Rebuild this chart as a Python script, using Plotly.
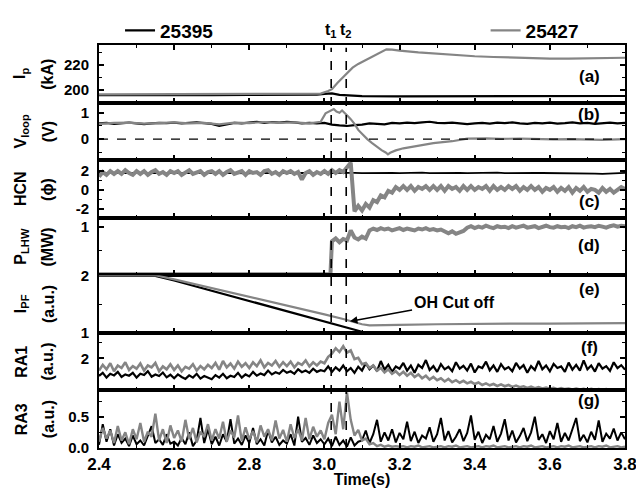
import numpy as np
import plotly.graph_objects as go
from plotly.subplots import make_subplots

# ---------------- time bases (sample axes) ----------------
t_01 = np.round(np.arange(2.40, 3.8001, 0.01), 2)   # 141 samples
t_02 = np.round(np.arange(2.40, 3.8001, 0.02), 2)   # 71 samples

shots = ["25395", "25427"]
panel_tags = ["(a)", "(b)", "(c)", "(d)", "(e)", "(f)", "(g)"]
t_marks = [3.018, 3.058]
t_mark_labels = ["t<sub>1</sub>", "t<sub>2</sub>"]
x_ticks = [2.4, 2.6, 2.8, 3.0, 3.2, 3.4, 3.6, 3.8]
x_ticktext = ["2.4", "2.6", "2.8", "3.0", "3.2", "3.4", "3.6", "3.8"]

# ---------------- (a) plasma current Ip (kA) ----------------
ip_b_t = [2.40, 2.50, 2.60, 2.70, 2.80, 2.90, 2.98, 3.00, 3.02, 3.04, 3.07, 3.10, 3.20, 3.30, 3.40, 3.50, 3.60, 3.70, 3.80]
ip_b = [195.8, 195.6, 195.9, 195.7, 196.0, 195.8, 196.1, 196.8, 197.2, 196.0, 195.2, 194.9, 194.7, 194.8, 194.6, 194.8, 194.7, 194.9, 195.0]
ip_g_t = [2.40, 2.50, 2.60, 2.70, 2.80, 2.90, 2.95, 2.99, 3.01, 3.02, 3.035, 3.05, 3.06, 3.075, 3.09, 3.115, 3.14, 3.165,
          3.18, 3.20, 3.25, 3.30, 3.35, 3.40, 3.45, 3.50, 3.55, 3.60, 3.65, 3.70, 3.75, 3.80]
ip_g = [196.3, 196.4, 196.2, 196.5, 196.3, 196.6, 196.5, 197.0, 199.0, 200.5, 205.8, 210.5, 214.0, 218.0, 221.0, 225.0, 229.0, 232.8,
        232.6, 231.7, 230.3, 229.1, 228.0, 227.2, 226.6, 226.0, 225.6, 225.3, 225.2, 225.3, 225.6, 226.0]

# ---------------- (b) loop voltage (V) ----------------
vl_b = [0.60, 0.62, 0.58, 0.61, 0.63, 0.60, 0.57, 0.60, 0.62, 0.61, 0.63, 0.60, 0.62, 0.64, 0.61, 0.58, 0.50, 0.57, 0.62, 0.60,
        0.64, 0.66, 0.62, 0.65, 0.63, 0.66, 0.64, 0.60, 0.62, 0.60, 0.62, 0.55, 0.52, 0.50, 0.53, 0.55, 0.60, 0.58, 0.56, 0.62,
        0.60, 0.63, 0.61, 0.64, 0.66, 0.62, 0.61, 0.63, 0.60, 0.57, 0.60, 0.62, 0.59, 0.63, 0.61, 0.64, 0.60, 0.58, 0.62, 0.60,
        0.63, 0.59, 0.61, 0.64, 0.60, 0.62, 0.58, 0.61, 0.63, 0.60, 0.62]
vl_g_t = [2.40, 2.44, 2.48, 2.52, 2.56, 2.60, 2.64, 2.68, 2.72, 2.76, 2.80, 2.84, 2.88, 2.92, 2.96, 2.99,
          3.003, 3.01, 3.018, 3.025, 3.032, 3.04, 3.047, 3.055, 3.062, 3.07,
          3.08, 3.09, 3.10, 3.114, 3.127, 3.14, 3.152, 3.163, 3.169, 3.175,
          3.19, 3.21, 3.25, 3.29, 3.34, 3.38, 3.43, 3.47, 3.52, 3.56, 3.61, 3.65, 3.70, 3.74, 3.80]
vl_g = [0.58, 0.62, 0.63, 0.59, 0.61, 0.64, 0.60, 0.62, 0.56, 0.63, 0.61, 0.65, 0.62, 0.64, 0.60, 0.66,
        0.98, 1.03, 1.08, 1.14, 1.05, 1.00, 1.09, 0.96, 0.88, 0.76,
        0.58, 0.35, 0.20, 0.00, -0.15, -0.30, -0.42, -0.51, -0.58, -0.52,
        -0.43, -0.35, -0.24, -0.15, -0.08, 0.02, 0.03, 0.01, 0.02, 0.00, -0.01, 0.00, -0.02, -0.03, 0.00]

# ---------------- (c) HCN interferometer (phase) ----------------
hcn_b = [1.80, 1.78, 1.82, 1.79, 1.81, 1.80, 1.77, 1.83, 1.80, 1.78, 1.82, 1.80, 1.79, 1.81, 1.80, 1.78, 1.82,
         1.79, 1.81, 1.80, 1.77, 1.82, 1.80, 1.79, 1.81, 1.80, 1.78, 1.82, 1.80, 1.79, 1.81, 1.80, 1.82,
         1.85, 1.82, 1.78, 1.80, 1.83, 1.79, 1.81, 1.78, 1.82, 1.80, 1.84, 1.79, 1.81, 1.77, 1.80, 1.82,
         1.79, 1.81, 1.78, 1.80, 1.83, 1.79, 1.81, 1.80, 1.78, 1.82, 1.80, 1.79, 1.81, 1.78, 1.80, 1.82,
         1.79, 1.74, 1.70, 1.76, 1.80, 1.82]
hcn_g = [1.4, 1.9, 1.6, 2.0, 1.7, 2.0, 1.7, 2.1, 1.8, 1.6,
         2.0, 1.7, 2.0, 1.6, 1.9, 2.1, 1.7, 1.9, 1.6, 2.0,
         1.8, 2.0, 1.6, 1.9, 2.1, 1.7, 1.8, 2.0, 1.6, 1.9,
         2.0, 1.7, 2.0, 1.6, 1.9, 2.1, 1.7, 1.8, 2.0, 1.6,
         2.0, 1.8, 1.9, 1.6, 2.0, 2.1, 1.7, 1.9, 1.6, 2.0,
         1.8, 2.0, 1.7, 1.9, 1.1, 1.8, 2.0, 1.6, 1.9, 1.7,
         2.0, 1.7, 2.1, 1.8, 2.1, 1.9, 2.4, 2.9,
         -2.3, -1.7, -2.2, -1.5, -1.9, -1.1, -1.3, -0.6, -0.8, -0.1, -0.3, 0.3,
         0.0, 0.4, 0.0, 0.4, -0.1, 0.3, 0.1, 0.4, 0.0, 0.4,
         0.0, 0.4, -0.1, 0.4, 0.1, 0.3, -0.1, 0.4, 0.0, 0.4,
         0.0, 0.3, 0.1, 0.4, -0.1, 0.4, 0.0, 0.3, 0.0, 0.4,
         0.1, 0.4, -0.1, 0.3, 0.0, 0.4, 0.0, 0.3, -0.2, 0.2,
         0.0, 0.3, -0.2, 0.2, -0.1, 0.3, -0.3, 0.2, -0.1, 0.3,
         -0.2, 0.1, 0.0, -0.3, 0.2, -0.2, 0.1, -0.3, 0.0, 0.3, 0.1]

# ---------------- (d) LHW power (MW) ----------------
plhw_t = [2.40, 3.016] + list(np.round(np.arange(3.02, 3.8001, 0.01), 2))
plhw_g = [0.0, 0.0,
          0.70, 0.76, 0.68, 0.75, 0.72,
          0.93,
          0.78, 0.74, 0.80, 0.76,
          0.93, 0.97, 0.94, 0.98, 0.95, 0.97, 0.93, 0.96, 0.98, 0.94, 0.97, 0.95, 0.93, 0.97, 0.95, 0.98, 0.94, 0.96, 0.93, 0.95,
          0.90, 0.87, 0.91, 0.86, 0.89, 0.92,
          0.99, 1.02, 0.98, 1.01, 0.99, 1.03, 1.00, 0.98, 1.02, 1.00,
          1.01, 0.98, 1.02, 0.99, 1.01, 1.03, 0.99, 1.00, 1.02, 0.98,
          1.01, 1.03, 1.00, 0.99, 1.02, 1.00, 1.01, 0.98, 1.02, 1.00,
          1.03, 0.99, 1.01, 1.02, 1.00, 1.03, 1.01, 0.99, 1.02, 1.04,
          1.01, 1.03, 1.02]

# ---------------- (e) PF current (a.u.) ----------------
ipf_b_t = [2.40, 2.55, 2.60, 2.70, 2.80, 2.90, 3.00, 3.05, 3.10]
ipf_b = [2.00, 1.99, 1.91, 1.73, 1.55, 1.38, 1.20, 1.11, 1.02]
ipf_g_t = [2.40, 2.55, 2.60, 2.70, 2.80, 2.90, 3.00, 3.05, 3.08, 3.10, 3.12, 3.15, 3.20, 3.30, 3.40, 3.50, 3.60, 3.70, 3.80]
ipf_g = [2.00, 2.00, 1.93, 1.78, 1.63, 1.48, 1.32, 1.24, 1.18, 1.15, 1.13, 1.13, 1.14, 1.15, 1.16, 1.16, 1.16, 1.17, 1.17]
oh_cut = (3.068, 1.20)

# ---------------- (f) RA1 (a.u.) ----------------
ra1_b = [1.45, 1.55, 1.40, 1.52, 1.47, 1.58, 1.42, 1.50, 1.46, 1.55,
         1.40, 1.52, 1.48, 1.60, 1.43, 1.50, 1.45, 1.56, 1.41, 1.49,
         1.38, 1.50, 1.42, 1.36, 1.47, 1.40, 1.52, 1.37, 1.45, 1.41,
         1.35, 1.48, 1.40, 1.52, 1.38, 1.46, 1.42, 1.55, 1.40, 1.50,
         1.44, 1.58, 1.46, 1.53, 1.48, 1.62, 1.50, 1.57, 1.52, 1.64,
         1.55, 1.60, 1.52, 1.66, 1.57, 1.62, 1.55, 1.68, 1.58, 1.63,
         1.60, 1.75, 1.58, 1.72, 1.62, 1.78, 1.60, 1.70, 1.55, 1.74,
         1.62, 1.85, 1.66, 1.78, 1.60, 1.92, 1.65, 1.80, 1.58, 1.75,
         1.68, 1.86, 1.62, 1.78, 1.55, 1.80, 1.70, 1.95, 1.64, 1.76,
         1.58, 1.82, 1.66, 1.74, 1.60, 1.88, 1.68, 1.77, 1.62, 1.84,
         1.56, 1.75, 1.70, 1.90, 1.63, 1.78, 1.58, 1.82, 1.66, 1.73,
         1.60, 1.86, 1.68, 1.79, 1.55, 1.76, 1.64, 1.92, 1.66, 1.78,
         1.60, 1.83, 1.70, 1.75, 1.58, 1.87, 1.65, 1.80, 1.62, 1.94,
         1.66, 1.78, 1.59, 1.85, 1.68, 1.76, 1.61, 1.88, 1.70, 1.79,
         1.65]
ra1_g = [1.62, 1.80, 1.66, 1.85, 1.60, 1.78, 1.70, 1.88, 1.64, 1.76,
         1.68, 1.84, 1.62, 1.78, 1.72, 1.86, 1.60, 1.75, 1.66, 1.82,
         1.64, 1.78, 1.60, 1.74, 1.68, 1.82, 1.62, 1.76, 1.66, 1.80,
         1.70, 1.86, 1.65, 1.92, 1.72, 1.84, 1.68, 1.90, 1.74, 1.85,
         1.70, 1.88, 1.76, 1.94, 1.72, 1.86, 1.78, 1.92, 1.74, 1.88,
         1.76, 1.90, 1.72, 1.86, 1.80, 1.94, 1.75, 1.88, 1.78, 1.90,
         1.85, 2.05, 2.15, 2.32, 2.20, 2.38, 2.18, 2.25, 1.98, 2.02,
         1.82, 1.86, 1.70, 1.78, 1.62, 1.70, 1.56, 1.66, 1.52, 1.60,
         1.48, 1.58, 1.46, 1.55, 1.42, 1.50, 1.38, 1.46, 1.34, 1.42,
         1.32, 1.38, 1.28, 1.36, 1.26, 1.32, 1.24, 1.30, 1.22, 1.27,
         1.20, 1.25, 1.17, 1.22, 1.16, 1.20, 1.14, 1.19, 1.13, 1.17,
         1.11, 1.15, 1.10, 1.13, 1.08, 1.12, 1.07, 1.10, 1.06, 1.09,
         1.05, 1.08, 1.04, 1.07, 1.04, 1.06, 1.03, 1.06, 1.03, 1.05,
         1.02, 1.05, 1.02, 1.04, 1.02, 1.04, 1.01, 1.03, 1.01, 1.03,
         1.02]

# ---------------- (g) RA3 (a.u.) ----------------
ra3_b = [0.05, 0.38, 0.10, 0.30, 0.04, 0.22, 0.08, 0.15, 0.03, 0.20,
         0.06, 0.12, 0.04, 0.18, 0.35, 0.08, 0.14, 0.05, 0.22, 0.07,
         0.10, 0.04, 0.16, 0.06, 0.25, 0.03, 0.12, 0.48, 0.08, 0.30,
         0.06, 0.18, 0.04, 0.22, 0.10, 0.46, 0.07, 0.15, 0.05, 0.20,
         0.08, 0.32, 0.06, 0.14, 0.04, 0.28, 0.09, 0.18, 0.05, 0.12,
         0.07, 0.22, 0.04, 0.50, 0.10, 0.16, 0.05, 0.20, 0.08, 0.14,
         0.06, 0.15, 0.03, 0.18, 0.05, 0.12, 0.02, 0.17, 0.04, 0.10,
         0.12, 0.28, 0.08, 0.22, 0.45, 0.10, 0.25, 0.12, 0.30, 0.09,
         0.24, 0.14, 0.42, 0.11, 0.26, 0.08, 0.20, 0.15, 0.33, 0.10,
         0.22, 0.48, 0.12, 0.27, 0.09, 0.18, 0.30, 0.11, 0.24, 0.52,
         0.13, 0.26, 0.08, 0.21, 0.14, 0.35, 0.10, 0.23, 0.46, 0.12,
         0.28, 0.09, 0.19, 0.32, 0.11, 0.25, 0.50, 0.13, 0.22, 0.08,
         0.27, 0.14, 0.40, 0.10, 0.24, 0.12, 0.30, 0.48, 0.11, 0.21,
         0.09, 0.26, 0.13, 0.44, 0.10, 0.23, 0.15, 0.31, 0.12, 0.25,
         0.14]
ra3_g = [0.10, 0.32, 0.15, 0.28, 0.08, 0.35, 0.12, 0.25, 0.06, 0.30,
         0.14, 0.40, 0.10, 0.26, 0.18, 0.55, 0.12, 0.30, 0.08, 0.36,
         0.16, 0.28, 0.10, 0.45, 0.14, 0.32, 0.09, 0.26, 0.18, 0.38,
         0.12, 0.30, 0.15, 0.42, 0.10, 0.28, 0.17, 0.52, 0.11, 0.33,
         0.14, 0.27, 0.09, 0.36, 0.18, 0.30, 0.12, 0.44, 0.15, 0.29,
         0.10, 0.38, 0.16, 0.30, 0.12, 0.48, 0.14, 0.34, 0.18, 0.28,
         0.14, 0.40, 0.53, 0.22, 0.74, 0.30, 0.89, 0.45, 0.20, 0.29,
         0.12, 0.15, 0.06, 0.08, 0.03, 0.05, 0.02, 0.04, 0.02, 0.03,
         0.02, 0.03, 0.01, 0.03, 0.02, 0.04, 0.01, 0.02, 0.03, 0.01,
         0.02, 0.03, 0.01, 0.03, 0.02, 0.04, 0.01, 0.02, 0.03, 0.01,
         0.02, 0.03, 0.01, 0.03, 0.02, 0.04, 0.01, 0.02, 0.03, 0.01,
         0.02, 0.03, 0.01, 0.03, 0.02, 0.04, 0.01, 0.02, 0.03, 0.01,
         0.02, 0.03, 0.01, 0.03, 0.02, 0.04, 0.01, 0.02, 0.03, 0.01,
         0.02, 0.03, 0.01, 0.03, 0.02, 0.04, 0.01, 0.02, 0.03, 0.01,
         0.02]

# ---------------- y-axis labels ----------------
ylab_main = ["I<sub>p</sub>", "V<sub>loop</sub>", "HCN", "P<sub>LHW</sub>", "I<sub>PF</sub>", "RA1", "RA3"]
ylab_unit = ["(kA)", "(V)", "(\u03d5)", "(MW)", "(a.u.)", "(a.u.)", "(a.u.)"]

BLACK = "#000000"
GRAY = "#858585"
FONT = "Liberation Sans, Arial, sans-serif"

fig = make_subplots(rows=7, cols=1, shared_xaxes=True, vertical_spacing=0)

def add(row, x, y, color, width, name=None, legend=None):
    fig.add_trace(go.Scatter(x=x, y=y, mode="lines", line=dict(color=color, width=width),
                             name=name, showlegend=name is not None,
                             legend=legend if legend else "legend",
                             hoverinfo="skip"), row=row, col=1)

add(1, ip_b_t, ip_b, BLACK, 2.2, name=shots[0], legend="legend")
add(1, ip_g_t, ip_g, GRAY, 2.2, name=shots[1], legend="legend2")
add(2, t_02, vl_b, BLACK, 2.2)
add(2, vl_g_t, vl_g, GRAY, 2.2)
add(3, t_02, hcn_b, BLACK, 1.8)
add(3, t_01, hcn_g, GRAY, 4)
add(4, plhw_t, plhw_g, GRAY, 4)
add(5, ipf_b_t, ipf_b, BLACK, 2.2)
add(5, ipf_g_t, ipf_g, GRAY, 2.2)
add(6, t_01, ra1_b, BLACK, 2.2)
add(6, t_01, ra1_g, GRAY, 2.6)
add(7, t_01, ra3_b, BLACK, 2)
add(7, t_01, ra3_g, GRAY, 2.4)

yranges = [[189.7, 236.3], [-0.80, 1.39], [-2.97, 3.17], [-0.02, 1.20], [1.0, 2.0], [1.0, 2.8], [0.0, 0.92]]
ymajor = [dict(dtick=20, tick0=200), dict(dtick=1, tick0=0),
          dict(tickmode="array", tickvals=[-2, 0, 2], ticktext=["-2", "0", "2"]),
          dict(tickmode="array", tickvals=[1], ticktext=["1"]),
          dict(dtick=1, tick0=0),
          dict(tickmode="array", tickvals=[2], ticktext=["2"]),
          dict(dtick=0.5, tick0=0, tickformat=".1f")]
yminor = [10, 0.5, 1, 0.5, 0.5, 0.5, 0.25]

for r in range(1, 8):
    fig.update_xaxes(row=r, col=1, range=[2.4, 3.8], showline=True, linewidth=2, linecolor="black",
                     mirror="ticks" if r == 1 else True, ticks="inside", ticklen=5, tickwidth=1.5,
                     tickcolor="black", tickmode="array", tickvals=x_ticks, ticktext=x_ticktext,
                     showgrid=False, zeroline=False,
                     minor=dict(tickmode="linear", dtick=0.1, tick0=2.4, ticks="inside", ticklen=3,
                                tickwidth=1.2, tickcolor="black"),
                     showticklabels=(r == 7), automargin=False)
    fig.update_yaxes(row=r, col=1, range=yranges[r - 1], showline=True, linewidth=2, linecolor="black",
                     mirror="ticks", ticks="inside", ticklen=5, tickwidth=1.5, tickcolor="black",
                     showgrid=False, zeroline=False, automargin=False, ticklabelstandoff=5,
                     tickfont=dict(size=15),
                     minor=dict(tickmode="linear", tick0=0, dtick=yminor[r - 1], ticks="inside",
                                ticklen=3, tickwidth=1.2, tickcolor="black"),
                     **ymajor[r - 1])

fig.update_xaxes(row=7, col=1, tickfont=dict(size=17), ticklabeloverflow="allow",
                 title=dict(text="Time(s)", font=dict(size=16), standoff=0))

# dashed time markers t1, t2 across all panels
for tm, lab in zip(t_marks, t_mark_labels):
    fig.add_shape(type="line", xref="x7", yref="paper", x0=tm, x1=tm, y0=0, y1=0.993,
                  line=dict(color="black", width=1.6, dash="dash"))
    fig.add_annotation(x=tm, xref="x7", y=1.036, yref="paper", text=lab, showarrow=False,
                       font=dict(size=16), xanchor="center", yanchor="middle")

# zero line in Vloop panel
fig.add_shape(type="line", xref="x2 domain", yref="y2", x0=0, x1=1, y0=0, y1=0,
              line=dict(color="black", width=1.4, dash="dash"))

# panel tags and y-axis titles
tag_y = [0.45, 0.79, 0.28, 0.52, 0.75, 0.75, 0.83]
for r in range(1, 8):
    yref = "y domain" if r == 1 else f"y{r} domain"
    fig.add_annotation(x=0.9316, xref="paper", y=tag_y[r - 1], yref=yref, text=panel_tags[r - 1],
                       showarrow=False, font=dict(size=17), xanchor="center", yanchor="middle")
    fig.add_annotation(x=-0.148, xref="paper", y=0.5, yref=yref, text=ylab_main[r - 1], textangle=-90,
                       showarrow=False, font=dict(size=16), xanchor="center", yanchor="middle")
    fig.add_annotation(x=-0.097, xref="paper", y=0.5, yref=yref, text=ylab_unit[r - 1], textangle=-90,
                       showarrow=False, font=dict(size=16), xanchor="center", yanchor="middle")

# OH cut off arrow
fig.add_annotation(x=oh_cut[0], y=oh_cut[1], xref="x5", yref="y5", ax=3.345, ay=1.53, axref="x5", ayref="y5",
                   text="OH Cut off", showarrow=True, arrowhead=2, arrowsize=1, arrowwidth=1.5,
                   arrowcolor="black", font=dict(size=16))

fig.update_layout(
    width=636, height=488, margin=dict(l=99, r=11, t=29, b=40),
    plot_bgcolor="white", paper_bgcolor="white",
    font=dict(family=FONT, size=15, color="black", weight="bold"),
    legend=dict(x=0.04, y=1.036, xanchor="left", yanchor="middle", orientation="h",
                font=dict(size=19), bgcolor="rgba(0,0,0,0)"),
    legend2=dict(x=0.735, y=1.036, xanchor="left", yanchor="middle", orientation="h",
                 font=dict(size=19), bgcolor="rgba(0,0,0,0)"),
)

fig.write_html("out.html")
